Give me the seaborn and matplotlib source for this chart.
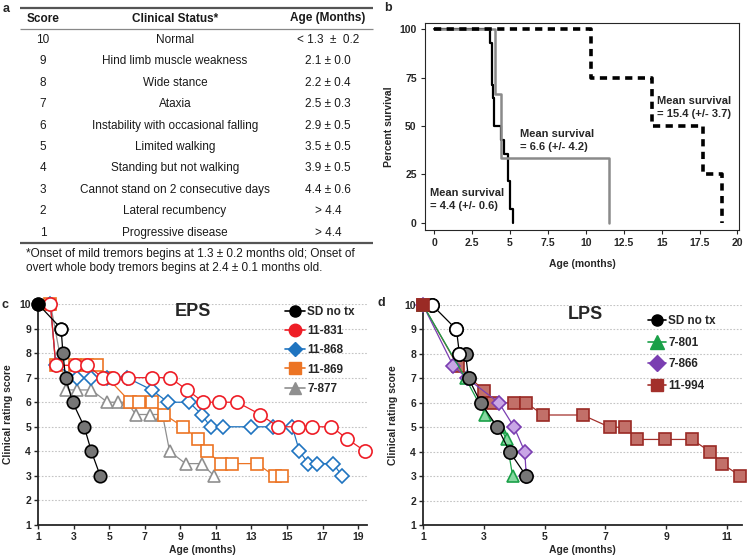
import matplotlib
matplotlib.use('Agg')
import matplotlib.pyplot as plt
from matplotlib.lines import Line2D
import seaborn as sns

sns.set_style('ticks')
plt.rcParams['font.family'] = ['Liberation Sans', 'DejaVu Sans']

# ---- panel a: clinical rating table ----
scores = ['10', '9', '8', '7', '6', '5', '4', '3', '2', '1']
statuses = ['Normal', 'Hind limb muscle weakness', 'Wide stance', 'Ataxia',
            'Instability with occasional falling', 'Limited walking',
            'Standing but not walking', 'Cannot stand on 2 consecutive days',
            'Lateral recumbency', 'Progressive disease']
onset_ages = ['< 1.3  \u00b1  0.2', '2.1 \u00b1 0.0', '2.2 \u00b1 0.4', '2.5 \u00b1 0.3',
              '2.9 \u00b1 0.5', '3.5 \u00b1 0.5', '3.9 \u00b1 0.5', '4.4 \u00b1 0.6',
              '> 4.4', '> 4.4']
footnote = ('*Onset of mild tremors begins at 1.3 \u00b1 0.2 months old; Onset of\n'
            'overt whole body tremors begins at 2.4 \u00b1 0.1 months old.')

# ---- panel b: survival curves (months, percent) ----
sd_km_t = [0, 3.7, 3.8, 3.88, 3.93, 4.4, 4.6, 4.9, 5.0, 5.2]
sd_km_s = [100, 92.9, 71.4, 64.3, 50.0, 42.9, 35.7, 21.4, 7.1, 0]
lps_km_t = [0, 4.0, 4.4, 11.5]
lps_km_s = [100, 66.7, 33.3, 0]
eps_km_t = [0, 10.35, 14.35, 17.7, 18.95]
eps_km_s = [100, 75, 50, 25, 0]

# ---- panel c: EPS clinical scores ----
c_sd_x = [1.0, 2.3, 2.4, 2.55, 2.95, 3.6, 4.0, 4.5]
c_sd_y = [10, 9, 8, 7, 6, 5, 4, 3]
c831_x = [1.7, 2.0, 3.1, 3.75, 4.65, 5.2, 6.05, 7.4, 8.4, 9.4, 10.3, 11.2, 12.2,
          13.5, 14.5, 15.6, 16.4, 17.5, 18.4, 19.4]
c831_y = [10, 7.5, 7.5, 7.5, 7, 7, 7, 7, 7, 6.5, 6, 6, 6, 5.5, 5, 5, 5, 5, 4.5, 4]
c868_x = [1.7, 2.0, 3.2, 4.0, 4.9, 6.0, 7.4, 8.3, 9.5, 10.2, 10.7, 11.4, 13.0,
          14.2, 15.3, 15.7, 16.2, 16.7, 17.6, 18.1]
c868_y = [10, 7.5, 7, 7, 7, 7, 6.5, 6, 6, 5.5, 5, 5, 5, 5, 5, 4, 3.5, 3.5, 3.5, 3]
c869_x = [1.7, 2.0, 3.1, 3.75, 4.3, 4.9, 6.2, 6.7, 7.4, 8.1, 9.15, 10.0, 10.5,
          11.3, 11.9, 13.3, 14.3, 14.7]
c869_y = [10, 7.5, 7.5, 7.5, 7.5, 7, 6, 6, 6, 5.5, 5, 4.5, 4, 3.5, 3.5, 3.5, 3, 3]
c877_x = [1.7, 2.6, 3.2, 4.0, 4.9, 5.5, 6.0, 6.5, 7.3, 8.0, 8.4, 9.3, 10.2, 10.9]
c877_y = [10, 6.5, 6.5, 6.5, 6, 6, 6, 5.5, 5.5, 5.5, 4, 3.5, 3.5, 3]

# ---- panel d: LPS clinical scores ----
d_sd_x = [1.3, 2.1, 2.2, 2.4, 2.5, 2.9, 3.45, 3.85, 4.4]
d_sd_y = [10, 9, 8, 8, 7, 6, 5, 4, 3]
d801_x = [1.0, 2.4, 3.05, 3.55, 3.75, 3.95]
d801_y = [10, 7, 5.5, 5, 4.5, 3]
d866_x = [1.0, 2.0, 2.45, 3.5, 4.0, 4.35, 4.4]
d866_y = [10, 7.5, 7, 6, 5, 4, 3]
d994_x = [1.0, 2.15, 3.0, 3.3, 4.0, 4.4, 4.95, 6.25, 7.15, 7.65, 8.05, 8.95,
          9.85, 10.45, 10.85, 11.45]
d994_y = [10, 7.5, 6.5, 6, 6, 6, 5.5, 5.5, 5, 5, 4.5, 4.5, 4.5, 4, 3.5, 3]

W, H = 750, 559
fig = plt.figure(figsize=(7.5, 5.59), dpi=100)


def px_axes(x0, y0, x1, y1):
    # axes from pixel box (top-left origin)
    return fig.add_axes([x0 / W, 1 - y1 / H, (x1 - x0) / W, (y1 - y0) / H])


txt = '#1a1a1a'

# panel a
ax_a = px_axes(0, 0, 375, 280)
ax_a.set_xlim(0, 375)
ax_a.set_ylim(280, 0)
ax_a.axis('off')
ax_a.hlines(8, 20, 373, color='#555555', lw=1.6)
ax_a.hlines(29, 20, 373, color='#888888', lw=0.9)
ax_a.hlines(243, 20, 373, color='#555555', lw=1.6)
ax_a.text(43, 18.5, 'Score', ha='center', va='center', fontsize=8.5, weight='bold', color=txt)
ax_a.text(175, 18.5, 'Clinical Status*', ha='center', va='center', fontsize=8.5, weight='bold', color=txt)
ax_a.text(328, 18.5, 'Age (Months)', ha='center', va='center', fontsize=8.5, weight='bold', color=txt)
for i, (sc, st, ag) in enumerate(zip(scores, statuses, onset_ages)):
    yy = 40 + i * 21.4
    ax_a.text(43, yy, sc, ha='center', va='center', fontsize=8.5, color=txt)
    ax_a.text(175, yy, st, ha='center', va='center', fontsize=8.5, color=txt)
    ax_a.text(328, yy, ag, ha='center', va='center', fontsize=8.5, color=txt)
ax_a.text(26, 261, footnote, ha='left', va='center', fontsize=8.5, color=txt, linespacing=1.25)

# panel b
ax_b = px_axes(425, 23, 739, 230)
sns.lineplot(x=sd_km_t, y=sd_km_s, ax=ax_b, color='black', lw=1.6,
             drawstyle='steps-post', estimator=None, sort=False)
sns.lineplot(x=lps_km_t, y=lps_km_s, ax=ax_b, color='#8a8a8a', lw=1.8,
             drawstyle='steps-post', estimator=None, sort=False)
sns.lineplot(x=eps_km_t, y=eps_km_s, ax=ax_b, color='black', lw=2.6,
             linestyle=(0, (2.0, 1.5)), drawstyle='steps-post', estimator=None, sort=False)
ax_b.set_xlim(-0.6, 20.1)
ax_b.set_ylim(-3.8, 103.3)
ax_b.set_xticks([0, 2.5, 5, 7.5, 10, 12.5, 15, 17.5, 20])
ax_b.set_xticklabels(['0', '2.5', '5', '7.5', '10', '12.5', '15', '17.5', '20'])
ax_b.set_yticks([0, 25, 50, 75, 100])
ax_b.tick_params(labelsize=7.5, length=3, width=0.8, pad=3)
for lab in ax_b.get_xticklabels() + ax_b.get_yticklabels():
    lab.set_fontweight('bold')
for sp in ax_b.spines.values():
    sp.set_linewidth(0.8)
ax_b.set_xlabel('Age (months)', fontsize=7.5, weight='bold', labelpad=8)
ax_b.set_ylabel('Percent survival', fontsize=7.5, weight='bold', labelpad=4)
ax_b.text(14.7, 59.6, 'Mean survival\n= 15.4 (+/- 3.7)', fontsize=8, weight='bold',
          ha='left', va='center', linespacing=1.35)
ax_b.text(5.65, 42.7, 'Mean survival\n= 6.6 (+/- 4.2)', fontsize=8, weight='bold',
          ha='left', va='center', linespacing=1.35)
ax_b.text(-0.28, 11.9, 'Mean survival\n= 4.4 (+/- 0.6)', fontsize=8, weight='bold',
          ha='left', va='center', linespacing=1.35)


def draw_series(ax, x, y, color, marker, size, face, edge, lw=0.9, z=3):
    sns.lineplot(x=x, y=y, ax=ax, color=color, marker=marker, markersize=size,
                 markerfacecolor=face, markeredgecolor=edge, markeredgewidth=1.2,
                 linewidth=lw, estimator=None, sort=False, clip_on=False, zorder=z)


def style_score_axes(ax, xmax, xticks):
    ax.set_xlim(1, xmax)
    ax.set_ylim(1, 10)
    ax.set_yticks(range(1, 11))
    ax.set_xticks(xticks)
    ax.yaxis.grid(True, linestyle=(0, (1.5, 1.5)), color='#c4c4c4', lw=0.8)
    ax.set_axisbelow(True)
    sns.despine(ax=ax)
    for side in ['left', 'bottom']:
        ax.spines[side].set_linewidth(1.3)
    ax.tick_params(labelsize=7.5, length=3, width=1.0, pad=2)
    for lab in ax.get_xticklabels() + ax.get_yticklabels():
        lab.set_fontweight('bold')
    ax.set_xlabel('Age (months)', fontsize=7.5, weight='bold', labelpad=2)
    ax.set_ylabel('Clinical rating score', fontsize=7.5, weight='bold', labelpad=5)


hatch_gray = '#767676'

# panel c
ax_c = px_axes(38, 304, 367, 525)
draw_series(ax_c, c877_x, c877_y, '#8f8f8f', '^', 9, 'white', '#8f8f8f')
draw_series(ax_c, c869_x, c869_y, '#ec7424', 's', 8.5, 'white', '#ec7424')
draw_series(ax_c, c868_x, c868_y, '#1f74c0', 'D', 7, 'white', '#1f74c0')
draw_series(ax_c, c831_x, c831_y, '#ee1d26', 'o', 9.5, 'white', '#ee1d26')
draw_series(ax_c, c_sd_x, c_sd_y, 'black', 'o', 9, hatch_gray, 'black', z=4)
sns.lineplot(x=c_sd_x[:1], y=c_sd_y[:1], ax=ax_c, marker='o', markersize=9, linestyle='none',
             markerfacecolor='black', markeredgecolor='black', markeredgewidth=1.2,
             estimator=None, clip_on=False, zorder=5)
sns.lineplot(x=c_sd_x[1:2], y=c_sd_y[1:2], ax=ax_c, marker='o', markersize=9, linestyle='none',
             markerfacecolor='white', markeredgecolor='black', markeredgewidth=1.2,
             estimator=None, clip_on=False, zorder=5)
style_score_axes(ax_c, 19.5, range(1, 20, 2))
ax_c.text(0.416, 0.968, 'EPS', transform=ax_c.transAxes, fontsize=13, weight='bold',
          ha='left', va='center')

c_labels = ['SD no tx', '11-831', '11-868', '11-869', '7-877']
c_handles = [Line2D([0], [0], color='black', marker='o', markersize=8, markerfacecolor='black', lw=1.2),
             Line2D([0], [0], color='#ee1d26', marker='o', markersize=9, markerfacecolor='#ee1d26', lw=1.2),
             Line2D([0], [0], color='#1f74c0', marker='D', markersize=7.5, markerfacecolor='#1f74c0', lw=1.2),
             Line2D([0], [0], color='#ec7424', marker='s', markersize=8, markerfacecolor='#ec7424', lw=1.2),
             Line2D([0], [0], color='#8f8f8f', marker='^', markersize=9, markerfacecolor='#8f8f8f', lw=1.2)]
ax_c.legend(c_handles, c_labels, loc='upper left', bbox_to_anchor=(0.725, 1.03), frameon=False,
            prop={'weight': 'bold', 'size': 8.5}, handlelength=1.7, handletextpad=0.2,
            labelspacing=0.62, borderpad=0.2)

# panel d
ax_d = px_axes(423, 305, 742, 525)
draw_series(ax_d, d994_x, d994_y, '#a3302b', 's', 8, '#c27069', '#9a2a25')
draw_series(ax_d, d866_x, d866_y, '#7a3eb1', 'D', 7, '#c9a6e6', '#7a3eb1')
draw_series(ax_d, d801_x, d801_y, '#1aa048', '^', 9, '#86d7a0', '#1aa048')
draw_series(ax_d, d_sd_x, d_sd_y, 'black', 'o', 9.5, hatch_gray, 'black', z=4)
sns.lineplot(x=d_sd_x[:3], y=d_sd_y[:3], ax=ax_d, marker='o', markersize=9.5, linestyle='none',
             markerfacecolor='white', markeredgecolor='black', markeredgewidth=1.2,
             estimator=None, sort=False, clip_on=False, zorder=5)
sns.lineplot(x=d994_x[:1], y=d994_y[:1], ax=ax_d, marker='s', markersize=8, linestyle='none',
             markerfacecolor='#9a2a25', markeredgecolor='#9a2a25', markeredgewidth=1.2,
             estimator=None, clip_on=False, zorder=6)
style_score_axes(ax_d, 11.5, range(1, 12, 2))
ax_d.text(0.455, 0.959, 'LPS', transform=ax_d.transAxes, fontsize=13, weight='bold',
          ha='left', va='center')

d_labels = ['SD no tx', '7-801', '7-866', '11-994']
d_handles = [Line2D([0], [0], color='black', marker='o', markersize=8, markerfacecolor='black', lw=1.2),
             Line2D([0], [0], color='#1aa048', marker='^', markersize=10, markerfacecolor='#1aa048', lw=1.2),
             Line2D([0], [0], color='#7a3eb1', marker='D', markersize=8, markerfacecolor='#7a3eb1', lw=1.2),
             Line2D([0], [0], color='#a3302b', marker='s', markersize=9, markerfacecolor='#a3302b', lw=1.2)]
ax_d.legend(d_handles, d_labels, loc='upper left', bbox_to_anchor=(0.68, 0.99), frameon=False,
            prop={'weight': 'bold', 'size': 8.5}, handlelength=1.5, handletextpad=0.2,
            labelspacing=0.8, borderpad=0.2)

# panel letters
for letter, (lx, ly) in zip(['a', 'b', 'c', 'd'], [(3, 9), (384, 8), (2, 305), (378, 303)]):
    fig.text(lx / W, 1 - ly / H, letter, fontsize=9, weight='bold', ha='left', va='center')

fig.savefig('out.png', dpi=100)
